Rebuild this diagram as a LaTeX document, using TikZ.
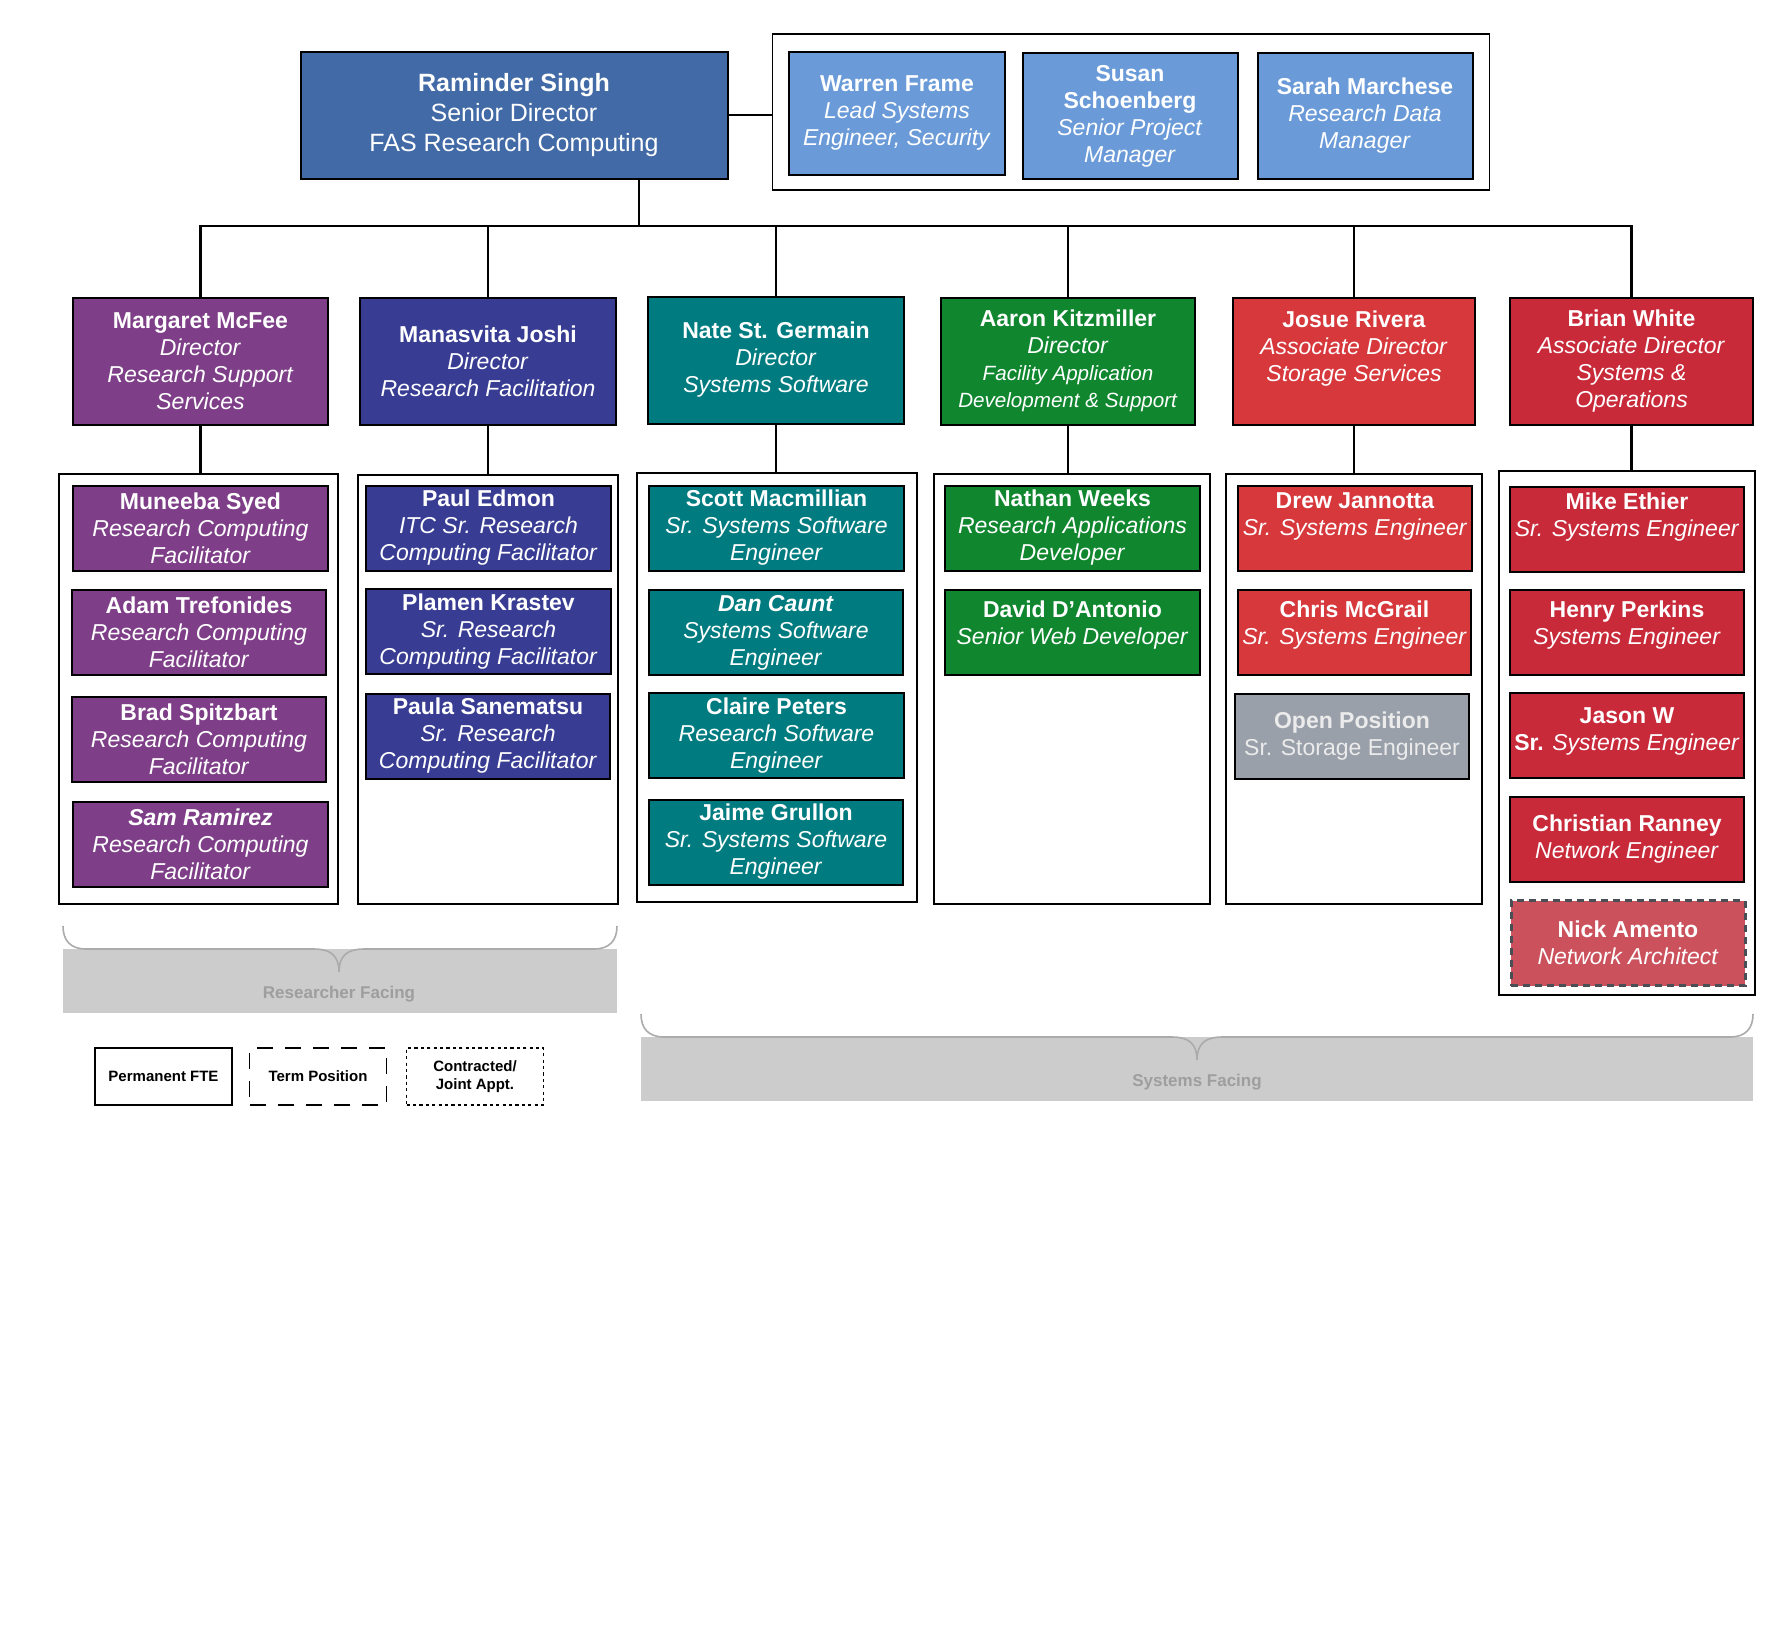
\documentclass[tikz,border=0pt]{standalone}
\usepackage{fontspec}
\setmainfont{Liberation Sans}

\definecolor{headblue}{HTML}{416AA6}
\definecolor{advblue}{HTML}{6A9BD8}
\definecolor{mcfeepurple}{HTML}{7E3F88}
\definecolor{joshiblue}{HTML}{383D93}
\definecolor{swteal}{HTML}{007C80}
\definecolor{fadsgreen}{HTML}{10872F}
\definecolor{storred}{HTML}{D6383C}
\definecolor{opsred}{HTML}{C82A3A}
\definecolor{opengray}{HTML}{9AA0AA}
\definecolor{nickred}{HTML}{CB525D}
\definecolor{nickline}{HTML}{4A4F55}
\definecolor{facefill}{HTML}{CCCCCC}
\definecolor{braceline}{HTML}{ABABAB}
\definecolor{facetext}{HTML}{9E9E9E}

\begin{document}
\begin{tikzpicture}[x=0.5pt, y=-0.5pt,
    person/.style={draw=black, line width=1pt, fill=#1, text=white, align=center,
      minimum height=42.5pt, inner sep=2pt, font=\fontsize{11.5}{13.5}\selectfont},
    director/.style={person=#1, minimum height=63.5pt},
    team/.style={draw=black, line width=0.9pt, fill=white},
    link/.style={line width=1.2pt},
    legendbox/.style={draw=black, line width=0.8pt, minimum width=68.5pt, minimum height=28.5pt,
      align=center, font=\fontsize{7.5}{9}\selectfont\bfseries},
    brace/.style={draw=braceline, line width=0.8pt},
    facing/.style={text=facetext, font=\fontsize{8.5}{10}\selectfont\bfseries}]

  \useasboundingbox (0,0) rectangle (1792,1645);

  % Senior director
  \node [person=headblue, minimum width=213.5pt, minimum height=63.5pt,
    font=\fontsize{12.5}{15}\selectfont] (singh) at (514,115)
    {\textbf{Raminder Singh}\\Senior Director\\FAS Research Computing};

  % Advisors
  \node [team, minimum width=358.5pt, minimum height=78pt] (advisors) at (1131,112) {};
  \node [person=advblue, minimum width=108pt, minimum height=61.5pt] (frame) at (897,113)
    {\textbf{Warren Frame}\\\textit{Lead Systems}\\\textit{Engineer, Security}};
  \node [person=advblue, minimum width=107.5pt, minimum height=63pt] (schoenberg) at (1130,116)
    {\textbf{Susan}\\\textbf{Schoenberg}\\\textit{Senior Project}\\\textit{Manager}};
  \node [person=advblue, minimum width=107.5pt, minimum height=63pt] (marchese) at (1365,116)
    {\textbf{Sarah Marchese}\\\textit{Research Data}\\\textit{Manager}};
  \draw [link] (singh.east) -- (singh.east -| advisors.west);

  % Directors
  \node [director=mcfeepurple, minimum width=127.5pt] (mcfee) at (200.5,361)
    {\textbf{Margaret McFee}\\\textit{Director}\\\textit{Research Support}\\\textit{Services}};
  \node [director=joshiblue, minimum width=128pt] (joshi) at (488,361)
    {\textbf{Manasvita Joshi}\\\textit{Director}\\\textit{Research Facilitation}};
  \node [director=swteal, minimum width=128pt] (germain) at (776,360)
    {\textbf{Nate St. Germain}\\\textit{Director}\\\textit{Systems Software}};
  \node [director=fadsgreen, minimum width=127pt] (kitz) at (1068,361)
    {\textbf{Aaron Kitzmiller}\\\textit{Director}\\{\fontsize{10.3}{12.5}\selectfont\textit{Facility Application}}\\{\fontsize{10.3}{12.5}\selectfont\textit{Development \& Support}}};
  \node [director=storred, minimum width=121pt] (rivera) at (1354,361)
    {\textbf{Josue Rivera}\\\textit{Associate Director}\\\textit{Storage Services}\\[1.4pt]\mbox{}};
  \node [director=opsred, minimum width=121.5pt] (white) at (1631.5,361)
    {\textbf{Brian White}\\\textit{Associate Director}\\\textit{Systems \&}\\\textit{Operations}};

  % Reporting lines
  \coordinate (bus) at (639,226);
  \draw [link] (singh.south -| bus) -- (bus);
  \foreach \d in {mcfee, joshi, germain, kitz, rivera, white}
    \draw [link] (bus) -| (\d.north);

  % Teams
  \node [team, minimum width=139.5pt, minimum height=215pt] (rss) at (198.5,689) {};
  \node [team, minimum width=130pt, minimum height=214.5pt] (rf) at (488,689.5) {};
  \node [team, minimum width=140pt, minimum height=214.5pt] (sws) at (777,687.5) {};
  \node [team, minimum width=138pt, minimum height=215pt] (fads) at (1072,689) {};
  \node [team, minimum width=128pt, minimum height=215pt] (stor) at (1354,689) {};
  \node [team, minimum width=128pt, minimum height=262pt] (sysops) at (1627,733) {};
  \foreach \d/\t in {mcfee/rss, joshi/rf, germain/sws, kitz/fads, rivera/stor, white/sysops}
    \draw [link] (\d.south) -- (\d.south |- \t.north);

  % Research support services
  \node [person=mcfeepurple, minimum width=127.5pt] (syed) at (200.5,528)
    {\textbf{Muneeba Syed}\\\textit{Research Computing}\\\textit{Facilitator}};
  \node [person=mcfeepurple, minimum width=127pt] (trefonides) at (199,632.5)
    {\textbf{Adam Trefonides}\\\textit{Research Computing}\\\textit{Facilitator}};
  \node [person=mcfeepurple, minimum width=127pt] (spitzbart) at (199,739)
    {\textbf{Brad Spitzbart}\\\textit{Research Computing}\\\textit{Facilitator}};
  \node [person=mcfeepurple, minimum width=127.5pt] (ramirez) at (200.5,844.5)
    {\textbf{\textit{Sam Ramirez}}\\\textit{Research Computing}\\\textit{Facilitator}};

  % Research facilitation
  \node [person=joshiblue, minimum width=122.5pt] (edmon) at (488.5,528)
    {\textbf{Paul Edmon}\\\textit{ITC Sr. Research}\\\textit{Computing Facilitator}};
  \node [person=joshiblue, minimum width=122.5pt] (krastev) at (488.5,631.5)
    {\textbf{Plamen Krastev}\\\textit{Sr. Research}\\\textit{Computing Facilitator}};
  \node [person=joshiblue, minimum width=122pt] (sanematsu) at (488,736)
    {\textbf{Paula Sanematsu}\\\textit{Sr. Research}\\\textit{Computing Facilitator}};

  % Systems software
  \node [person=swteal, minimum width=127.5pt] (macmillian) at (776.5,528)
    {\textbf{Scott Macmillian}\\\textit{Sr. Systems Software}\\\textit{Engineer}};
  \node [person=swteal, minimum width=127pt] (caunt) at (776,632.5)
    {\textbf{\textit{Dan Caunt}}\\\textit{Systems Software}\\\textit{Engineer}};
  \node [person=swteal, minimum width=127.5pt] (peters) at (776.5,735.5)
    {\textbf{Claire Peters}\\\textit{Research Software}\\\textit{Engineer}};
  \node [person=swteal, minimum width=127pt] (grullon) at (776,842)
    {\textbf{Jaime Grullon}\\\textit{Sr. Systems Software}\\\textit{Engineer}};

  % Facility application development
  \node [person=fadsgreen, minimum width=127.5pt] (weeks) at (1072.5,528)
    {\textbf{Nathan Weeks}\\\textit{Research Applications}\\\textit{Developer}};
  \node [person=fadsgreen, minimum width=127.5pt] (dantonio) at (1072.5,632)
    {\textbf{David D'Antonio}\\\textit{Senior Web Developer}\\[-3.7pt]\mbox{}};

  % Storage services
  \node [person=storred, minimum width=117pt] (jannotta) at (1355,528)
    {\textbf{Drew Jannotta}\\\textit{Sr. Systems Engineer}\\[0.9pt]\mbox{}};
  \node [person=storred, minimum width=116.5pt] (mcgrail) at (1354.5,632)
    {\textbf{Chris McGrail}\\\textit{Sr. Systems Engineer}\\[-3.7pt]\mbox{}};
  \node [person=opengray, minimum width=117pt, text=white!92!black] (openpos) at (1352,736)
    {\textbf{Open Position}\\Sr. Storage Engineer};

  % Systems and operations
  \node [person=opsred, minimum width=117pt] (ethier) at (1627,529)
    {\textbf{Mike Ethier}\\\textit{Sr. Systems Engineer}\\[0.9pt]\mbox{}};
  \node [person=opsred, minimum width=117pt] (perkins) at (1627,632)
    {\textbf{Henry Perkins}\\\textit{Systems Engineer}\\[-3.7pt]\mbox{}};
  \node [person=opsred, minimum width=117pt] (jasonw) at (1627,735.5)
    {\textbf{Jason W}\\\textbf{Sr.} \textit{Systems Engineer}\\[-6.6pt]\mbox{}};
  \node [person=opsred, minimum width=117pt] (ranney) at (1627,839.5)
    {\textbf{Christian Ranney}\\\textit{Network Engineer}};
  \node [person=nickred, minimum width=117pt, draw=nickline, line width=1.5pt,
    dash pattern=on 3.5pt off 2.5pt] (amento) at (1628,943)
    {\textbf{Nick Amento}\\\textit{Network Architect}};

  % Researcher facing
  \fill [facefill] (63,949) rectangle (617,1013);
  \draw [brace] (63,926) .. controls (63,940) and (70,949) .. (86,949) -- (314,949)
    .. controls (331,949) and (339,956) .. (339,972)
    .. controls (339,956) and (347,949) .. (364,949) -- (594,949)
    .. controls (610,949) and (617,940) .. (617,926);
  \node [facing] (researcher) at (339,994) {Researcher Facing};

  % Systems facing
  \fill [facefill] (641,1037) rectangle (1753,1101);
  \draw [brace] (641,1014) .. controls (641,1028) and (648,1037) .. (664,1037) -- (1172,1037)
    .. controls (1189,1037) and (1197,1044) .. (1197,1060)
    .. controls (1197,1044) and (1205,1037) .. (1222,1037) -- (1730,1037)
    .. controls (1746,1037) and (1753,1028) .. (1753,1014);
  \node [facing] (systems) at (1197,1082) {Systems Facing};

  % Legend
  \node [legendbox] (perm) at (163.5,1076.5) {Permanent FTE};
  \node [legendbox, dash pattern=on 8pt off 6pt] (term) at (318,1076.5) {Term Position};
  \node [legendbox, dash pattern=on 1.6pt off 1.6pt] (contract) at (475,1076.5) {Contracted/\\Joint Appt.};
\end{tikzpicture}
\end{document}
